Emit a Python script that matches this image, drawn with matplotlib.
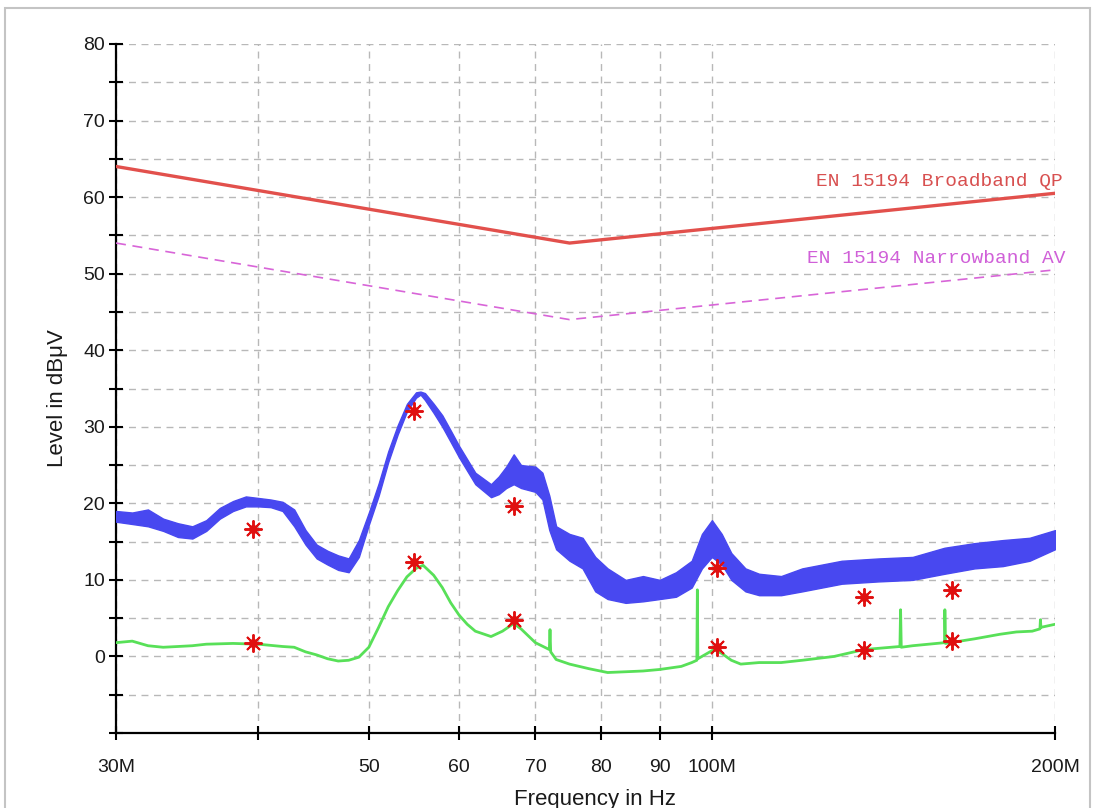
import matplotlib.pyplot as plt
import numpy as np
from matplotlib.patches import Rectangle

# EN 15194 limit lines, breakpoints (MHz, dBuV)
lim_freq = [30, 75, 200]
qp_limit = [64, 54, 60.5]
av_limit = [54, 44, 50.5]

# peak scan (blue) - lower / upper edge of the noisy trace
blue_freq = [30, 31, 32, 33, 34, 35, 36, 37, 38, 39, 40, 41, 42, 43, 44, 45, 46, 47, 48, 49,
             50, 51, 52, 53, 54, 55, 55.5, 56, 57, 58, 59, 60, 62, 64, 65, 66, 67, 68, 70, 71,
             72, 73, 75, 77, 79, 81, 84, 87, 90, 93, 96, 98, 100, 102, 104, 107, 110, 115,
             120, 130, 140, 150, 160, 170, 180, 190, 200]
blue_lo = [17.6, 17.3, 17.0, 16.4, 15.6, 15.4, 16.4, 18.0, 19.0, 19.6, 19.6, 19.5, 19.0, 17.0,
           14.6, 12.8, 12.0, 11.3, 11.0, 13.0, 17.2, 21.0, 25.4, 29.0, 32.0, 33.8, 34.2, 33.5,
           31.8, 30.0, 28.0, 26.0, 22.5, 20.8, 21.2, 22.0, 22.5, 22.0, 21.5, 20.5, 16.5, 14.0,
           12.5, 11.5, 8.5, 7.5, 7.0, 7.2, 7.5, 7.8, 9.0, 11.5, 13.0, 12.0, 10.0, 8.5, 8.0,
           8.0, 8.5, 9.5, 9.8, 10.0, 10.8, 11.5, 11.8, 12.5, 14.0]
blue_hi = [19.0, 18.8, 19.2, 18.0, 17.4, 17.0, 17.8, 19.4, 20.3, 20.9, 20.7, 20.5, 20.2, 19.2,
           16.5, 14.6, 13.8, 13.2, 12.8, 15.2, 18.8, 22.6, 26.8, 30.2, 33.0, 34.5, 34.6, 34.4,
           33.0, 31.5, 29.5, 27.5, 24.0, 22.5, 23.5, 24.8, 26.4, 25.0, 24.8, 24.0, 21.0, 17.0,
           16.0, 15.5, 13.0, 11.5, 10.0, 10.5, 10.0, 11.0, 12.5, 16.0, 17.8, 16.0, 13.5, 11.5,
           10.8, 10.5, 11.5, 12.5, 12.8, 13.0, 14.2, 14.8, 15.2, 15.5, 16.5]

# average scan (green)
green_freq = [30, 31, 32, 33, 34, 35, 36, 38, 40, 42, 43, 44, 45, 46, 47, 48, 49, 50, 51, 52,
              53, 54, 55, 55.8, 57, 58, 59, 60, 61, 62, 64, 65.5, 67, 68, 70, 72, 72.1, 72.2,
              73, 75, 78, 81, 84, 87, 90, 94, 96, 97.0, 97.1, 97.2, 98, 100.4, 102, 104, 106,
              110, 115, 120, 128, 136, 146.2, 146.4, 146.6, 150, 160.0, 160.1, 160.3, 170,
              179, 185, 191, 194, 194.2, 194.4, 200]
green_level = [1.8, 2.0, 1.4, 1.2, 1.3, 1.4, 1.6, 1.7, 1.6, 1.3, 1.2, 0.6, 0.2, -0.3, -0.6,
               -0.5, -0.1, 1.2, 3.8, 6.5, 8.6, 10.4, 11.5, 11.9, 10.6, 9.0, 7.0, 5.4, 4.2, 3.3,
               2.6, 3.3, 4.3, 3.6, 1.8, 0.9, 3.5, 0.6, -0.4, -1.0, -1.6, -2.1, -2.0, -1.9,
               -1.7, -1.3, -0.8, -0.5, 8.7, -0.3, 0.0, 0.9, 0.4, -0.5, -1.0, -0.8, -0.8, -0.5,
               0.0, 0.9, 1.3, 6.1, 1.2, 1.4, 1.8, 6.1, 1.7, 2.3, 2.9, 3.2, 3.3, 3.6, 4.8, 3.8,
               4.2]

# final measurement points (QP above, AV below)
final_freq = [39.6, 54.8, 67.1, 101.1, 136.1, 162.5]
final_qp = [16.6, 32.0, 19.7, 11.6, 7.7, 8.7]
final_av = [1.7, 12.4, 4.7, 1.2, 0.9, 2.0]

xtick_freq = [30, 40, 50, 60, 70, 80, 90, 100, 200]
xtick_labels = ['30M', '', '50', '60', '70', '80', '90', '100M', '200M']

MHZ = 1e6
W, H = 1095, 808

fig = plt.figure(figsize=(W / 100, H / 100), dpi=100)
ax = fig.add_axes([116 / W, 1 - 733 / H, (1055 - 116) / W, (733 - 44) / H])

hz = lambda f: np.asarray(f) * MHZ

ax.plot(hz(lim_freq), qp_limit, color='#e2504c', lw=2.4, zorder=4)
ax.plot(hz(lim_freq), av_limit, color='#d865d8', lw=1.2, ls=(0, (6, 4)), zorder=4)

ax.fill_between(hz(blue_freq), blue_lo, blue_hi, color='#4848f0', ec='#4848f0', lw=1.0,
                zorder=3)
ax.plot(hz(green_freq), green_level, color='#58e058', lw=2.0, zorder=3)

for lev in (final_qp, final_av):
    ax.plot(hz(final_freq), lev, ls='none', marker=(8, 2, 0), ms=13, mew=1.4,
            mec='#e01010', zorder=5)
    ax.plot(hz(final_freq), lev, ls='none', marker='o', ms=5.5, mfc='#e01010',
            mec='#e01010', zorder=5)

ax.text(1.0085, 62.0, 'EN 15194 Broadband QP', transform=ax.get_yaxis_transform(),
        ha='right', va='center', color='#d85050', fontsize=14, family='Liberation Mono',
        clip_on=False)
ax.text(1.0117, 52.0, 'EN 15194 Narrowband AV', transform=ax.get_yaxis_transform(),
        ha='right', va='center', color='#d060d8', fontsize=14, family='Liberation Mono',
        clip_on=False)

ax.set_xscale('log')
ax.set_xlim(30 * MHZ, 200 * MHZ)
ax.set_ylim(-10, 80)
ax.minorticks_off()
ax.set_xticks(hz(xtick_freq))
ax.set_xticklabels(xtick_labels)
yt = np.arange(-10, 81, 5)
ax.set_yticks(yt)
ax.set_yticklabels([str(v) if v % 10 == 0 and v >= 0 else '' for v in yt])

ax.grid(True, color='#b8b8b8', lw=1.0, ls=(0, (5, 4)), zorder=0)
for side in ('top', 'right'):
    ax.spines[side].set_visible(False)
for side in ('left', 'bottom'):
    ax.spines[side].set_linewidth(1.6)
ax.tick_params(direction='inout', length=10, width=1.5, labelsize=14, colors='black')
ax.tick_params(axis='x', pad=14)
ax.tick_params(axis='y', pad=3)
for lab in ax.get_xticklabels() + ax.get_yticklabels():
    lab.set_family('Liberation Sans')
    lab.set_color('#1a1a1a')

fig.text(58 / W, 1 - 398 / H, 'Level in dBμV', rotation=90, ha='center', va='center',
         fontsize=16, family='Liberation Sans', color='#1a1a1a')
fig.text(595 / W, 1 - 805 / H, 'Frequency in Hz', ha='center', va='baseline',
         fontsize=16, family='Liberation Sans', color='#1a1a1a')

fig.patches.append(Rectangle((5 / W, -0.02), (1090 - 5) / W, 1.02 - 8 / H, fill=False,
                             ec='#c4c4c4', lw=1.5, transform=fig.transFigure, figure=fig))

fig.savefig('out.png', dpi=100)
